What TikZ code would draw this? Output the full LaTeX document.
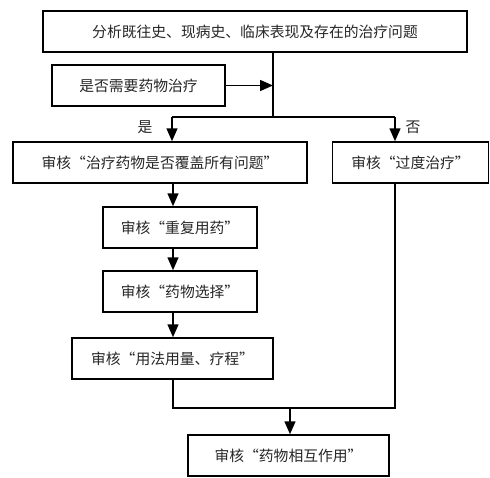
\documentclass[tikz,border=0pt]{standalone}
\usepackage{fontspec}
\newfontfamily\cjk{Noto Sans CJK SC}
\usetikzlibrary{arrows.meta}
\begin{document}
\begin{tikzpicture}[x=1pt,y=-1pt,
  box/.style={draw=black,line width=1.5pt,minimum height=41pt,inner sep=0pt,font=\cjk\fontsize{14.8}{16}\selectfont,text=black!85},
  conn/.style={line width=1.5pt,draw=black},
  arr/.style={conn,-{Triangle[length=13pt,width=11pt]}},
  lbl/.style={font=\cjk\fontsize{14.8}{16}\selectfont,text=black!85}]
\useasboundingbox (0,0) rectangle (490,477);
\node[box,minimum width=424pt] (top) at (255,31.5) {分析既往史、现病史、临床表现及存在的治疗问题};
\node[box,minimum width=173pt] (need) at (138.5,85.5) {是否需要药物治疗};
\node[box,minimum width=294pt] (cover) at (160,162.5) {审核“治疗药物是否覆盖所有问题”};
\node[box,minimum width=156pt] (over) at (410.5,162.5) {审核“过度治疗”};
\node[box,minimum width=154pt] (dup) at (180,227.5) {审核“重复用药”};
\node[box,minimum width=154pt] (sel) at (180,291.5) {审核“药物选择”};
\node[box,minimum width=201pt] (dose) at (172.5,358.5) {审核“用法用量、疗程”};
\node[box,minimum width=201pt] (inter) at (288.5,455.5) {审核“药物相互作用”};
\coordinate (j1) at (273,117);
\coordinate (jl) at (172,117);
\coordinate (jr) at (395,117);
\coordinate (b1) at (173,408);
\coordinate (b2) at (395,408);
\coordinate (bm) at (290,408);
\node[lbl] (yes) at (145,127) {是};
\node[lbl] (no) at (413,127) {否};
\draw[conn] (top.south -| j1) -- (j1);
\draw[arr] (need.east) -- (need.east -| j1);
\draw[conn] (jl) -- (jr);
\draw[arr] (jl) -- (cover.north -| jl);
\draw[arr] (jr) -- (over.north -| jr);
\draw[arr] (cover.south -| b1) -- (dup.north -| b1);
\draw[arr] (dup.south -| b1) -- (sel.north -| b1);
\draw[arr] (sel.south -| b1) -- (dose.north -| b1);
\draw[conn] (over.south -| b2) -- (b2) -- (b1) -- (dose.south -| b1);
\draw[arr] (bm) -- (inter.north -| bm);
\end{tikzpicture}
\end{document}
